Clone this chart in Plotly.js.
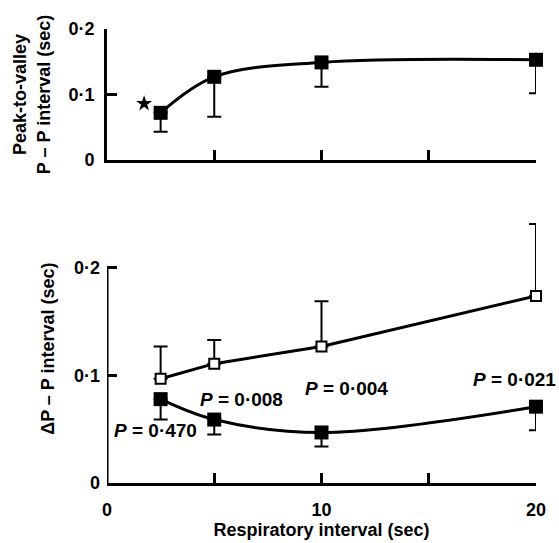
<!DOCTYPE html>
<html>
<head>
<meta charset="utf-8">
<script src="https://cdn.plot.ly/plotly-3.0.1.min.js"></script>
<style>html,body{margin:0;padding:0;background:#fff;}#chart{width:559px;height:543px;}</style>
</head>
<body>
<div id="chart"></div>
<script>
// Respiratory interval (sec)
const respInterval = [2.5, 5, 10, 20];

// Top panel: peak-to-valley P-P interval (sec), mean and lower error
const peakToValley = [0.072, 0.127, 0.149, 0.153];
const peakToValleyErr = [0.029, 0.061, 0.037, 0.051];
// Starred point
const starX = [1.73];
const starY = [0.086];

// Bottom panel: ΔP-P interval (sec)
const openMean = [0.097, 0.111, 0.127, 0.174];
const openErrUp = [0.030, 0.022, 0.042, 0.067];
const filledMean = [0.078, 0.059, 0.047, 0.071];
const filledErrDown = [0.019, 0.014, 0.013, 0.022];

// P-value labels
const pLabels = ["0·470", "0·008", "0·004", "0·021"];
const pLabelX = [2.28, 6.25, 11.15, 19.0];
const pLabelY = [0.049, 0.078, 0.0875, 0.096];

// Tick labels
const yTickVals = [0, 0.1, 0.2];
const yTickText = ["0", "0·1", "0·2"];
const xTickVals = [0, 5, 10, 15, 20];
const xTickTextBottom = ["0", "", "10", "", "20"];
const xTickTextTop = ["", "", "", "", ""];

const FONT = "Liberation Sans, Arial, Helvetica, sans-serif";
const zeros = n => new Array(n).fill(0);

const traces = [
  {
    x: respInterval, y: peakToValley, xaxis: "x", yaxis: "y",
    type: "scatter", mode: "lines+markers", cliponaxis: false,
    line: {color: "#000", width: 3, shape: "spline", smoothing: 1.0},
    marker: {symbol: "square", size: 14, color: "#000"},
    error_y: {type: "data", symmetric: false, array: zeros(4), arrayminus: peakToValleyErr,
              color: "#000", thickness: 2, width: 7},
    showlegend: false, hoverinfo: "skip"
  },
  {
    x: starX, y: starY, xaxis: "x", yaxis: "y",
    type: "scatter", mode: "markers", cliponaxis: false,
    marker: {symbol: "star", size: 12, color: "#000"},
    showlegend: false, hoverinfo: "skip"
  },
  {
    x: respInterval, y: openMean, xaxis: "x2", yaxis: "y2",
    type: "scatter", mode: "lines+markers", cliponaxis: false,
    line: {color: "#000", width: 3},
    marker: {symbol: "square", size: 10, color: "#fff", line: {color: "#000", width: 2}},
    error_y: {type: "data", symmetric: false, array: openErrUp, arrayminus: zeros(4),
              color: "#000", thickness: 2, width: 7},
    showlegend: false, hoverinfo: "skip"
  },
  {
    x: respInterval, y: filledMean, xaxis: "x2", yaxis: "y2",
    type: "scatter", mode: "lines+markers", cliponaxis: false,
    line: {color: "#000", width: 3, shape: "spline", smoothing: 1.0},
    marker: {symbol: "square", size: 14, color: "#000"},
    error_y: {type: "data", symmetric: false, array: zeros(4), arrayminus: filledErrDown,
              color: "#000", thickness: 2, width: 7},
    showlegend: false, hoverinfo: "skip"
  }
];

const axisCommon = {
  showgrid: false, zeroline: false, ticks: "inside", ticklen: 10, tickwidth: 3,
  tickcolor: "#000", linecolor: "#000", linewidth: 3,
  tickfont: {family: FONT, size: 18, color: "#000", weight: "bold"}
};
const titleFont = {family: FONT, size: 18, color: "#000", weight: "bold"};

const annotations = pLabels.map((t, i) => ({
  x: pLabelX[i], y: pLabelY[i], xref: "x2", yref: "y2",
  text: "<i>P</i> = " + t, showarrow: false,
  font: {family: FONT, size: 19, color: "#000", weight: "bold"},
  xanchor: "center", yanchor: "middle"
}));

const layout = {
  width: 559, height: 543,
  margin: {l: 107, r: 23, t: 29, b: 60},
  paper_bgcolor: "#fff", plot_bgcolor: "#fff",
  font: {family: FONT, color: "#000"},
  xaxis: Object.assign({}, axisCommon, {
    domain: [0, 1], anchor: "y", range: [0, 20], showline: true,
    tickvals: xTickVals, ticktext: xTickTextTop
  }),
  yaxis: Object.assign({}, axisCommon, {
    domain: [0.7115, 1], anchor: "x", range: [0, 0.2], showline: true,
    tickvals: yTickVals, ticktext: yTickText, ticklabelstandoff: 6,
    title: {text: "Peak-to-valley<br>P – P interval (sec)", standoff: 14, font: titleFont}
  }),
  xaxis2: Object.assign({}, axisCommon, {
    domain: [0, 1], anchor: "y2", range: [0, 20], showline: true,
    tickvals: xTickVals, ticktext: xTickTextBottom, ticklabelstandoff: 8,
    title: {text: "Respiratory interval (sec)", standoff: 4, font: titleFont}
  }),
  yaxis2: Object.assign({}, axisCommon, {
    domain: [0, 0.592], anchor: "x2", range: [0, 0.25], showline: false,
    tickvals: yTickVals, ticktext: yTickText, ticklabelstandoff: 6,
    title: {text: "ΔP – P interval (sec)", standoff: 14, font: titleFont}
  }),
  shapes: [
    {type: "line", xref: "x2", yref: "y2", x0: 0, x1: 0, y0: 0, y1: 0.2,
     line: {color: "#000", width: 3}}
  ],
  annotations: annotations
};

Plotly.newPlot("chart", traces, layout, {displayModeBar: false, staticPlot: true});
</script>
</body>
</html>
